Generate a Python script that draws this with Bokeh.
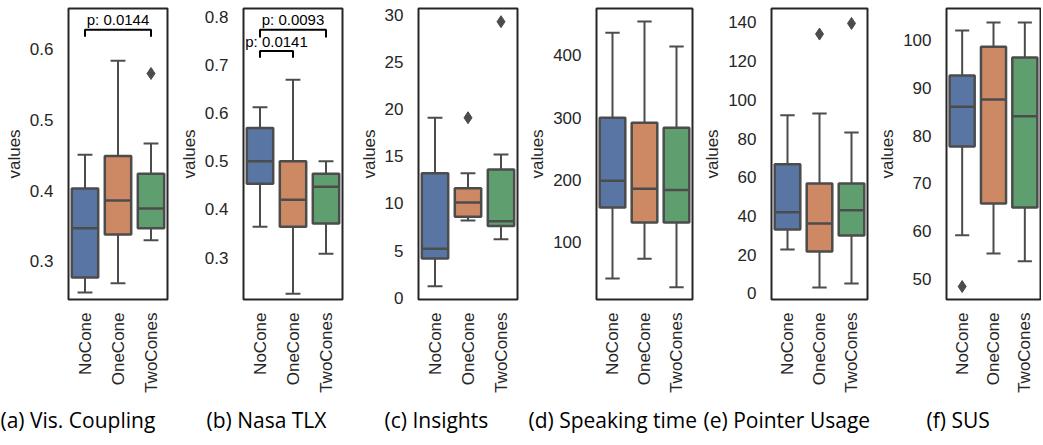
import numpy as np
from bokeh.plotting import figure
from bokeh.layouts import row
from bokeh.models import Range1d, FixedTicker, Title
from bokeh.embed import file_html
from bokeh.resources import INLINE
from bokeh.core.properties import value

# ---------------- data ----------------
categories = ["NoCone", "OneCone", "TwoCones"]
box_colors = ["#5875a4", "#cc8963", "#5f9e6e"]

captions = ["(a) Vis. Coupling", "(b) Nasa TLX", "(c) Insights",
            "(d) Speaking time", "(e) Pointer Usage", "(f) SUS"]

# (a) Vis. Coupling
vis_low = [0.256, 0.269, 0.330]
vis_q1 = [0.277, 0.338, 0.347]
vis_med = [0.347, 0.386, 0.375]
vis_q3 = [0.403, 0.449, 0.424]
vis_high = [0.451, 0.584, 0.467]
vis_out_cat = ["TwoCones"]
vis_out_val = [0.566]
vis_ticks = [0.3, 0.4, 0.5, 0.6]

# (b) Nasa TLX
tlx_low = [0.364, 0.225, 0.308]
tlx_q1 = [0.453, 0.364, 0.371]
tlx_med = [0.500, 0.420, 0.447]
tlx_q3 = [0.569, 0.500, 0.474]
tlx_high = [0.612, 0.669, 0.500]
tlx_out_cat = []
tlx_out_val = []
tlx_ticks = [0.3, 0.4, 0.5, 0.6, 0.7, 0.8]

# (c) Insights
ins_low = [1.2, 8.2, 6.2]
ins_q1 = [4.15, 8.6, 7.6]
ins_med = [5.2, 10.1, 8.1]
ins_q3 = [13.2, 11.6, 13.6]
ins_high = [19.1, 13.2, 15.2]
ins_out_cat = ["OneCone", "TwoCones"]
ins_out_val = [19.1, 29.3]
ins_ticks = [0, 5, 10, 15, 20, 25, 30]

# (d) Speaking time
spk_low = [42, 74, 28]
spk_q1 = [156, 132, 132]
spk_med = [199, 186, 184]
spk_q3 = [300, 292, 284]
spk_high = [436, 454, 414]
spk_out_cat = []
spk_out_val = []
spk_ticks = [100, 200, 300, 400]

# (e) Pointer Usage
ptr_low = [22.7, 3.1, 5.2]
ptr_q1 = [33.0, 21.7, 30.0]
ptr_med = [41.9, 36.2, 43.0]
ptr_q3 = [66.7, 56.8, 56.8]
ptr_high = [92.0, 93.0, 83.2]
ptr_out_cat = ["OneCone", "TwoCones"]
ptr_out_val = [134.0, 139.5]
ptr_ticks = [0, 20, 40, 60, 80, 100, 120, 140]

# (f) SUS
sus_low = [59.2, 55.4, 53.8]
sus_q1 = [77.7, 65.8, 65.0]
sus_med = [86.0, 87.5, 84.0]
sus_q3 = [92.5, 98.5, 96.3]
sus_high = [101.9, 103.6, 103.6]
sus_out_cat = ["NoCone"]
sus_out_val = [48.5]
sus_ticks = [50, 60, 70, 80, 90, 100]

# significance brackets
sig_panel = [0, 1, 1]
sig_from = ["NoCone", "NoCone", "NoCone"]
sig_to = ["TwoCones", "OneCone", "TwoCones"]
sig_top = [0.628, 0.729, 0.773]
sig_bottom = [0.618, 0.715, 0.757]
sig_label_y = [0.6424, 0.748, 0.794]
sig_text = ["p: 0.0144", "p: 0.0141", "p: 0.0093"]

# ---------------- layout / style ----------------
y_limits = [(0.246, 0.658), (0.213, 0.817), (-0.2, 30.7),
            (8.5, 475), (-3.1, 147.2), (45.8, 106.5)]
border_left = [68, 68, 68, 68, 68, 68]
frame_w = [99, 99, 99, 99, 99, 97]
border_right = [8, 8, 8, 8, 8, 1]
caption_offset = [-68, -37, -34, -68, -68, -20]
FIG_H = 443
TOP = 8
FRAME_H = 291

GRAY = "#4c4c4c"
DARK = "#262626"
TICK_FONT = "Liberation Sans"
CAPTION_FONT = "Open Sans"

panels = [
    (vis_low, vis_q1, vis_med, vis_q3, vis_high, vis_out_cat, vis_out_val, vis_ticks),
    (tlx_low, tlx_q1, tlx_med, tlx_q3, tlx_high, tlx_out_cat, tlx_out_val, tlx_ticks),
    (ins_low, ins_q1, ins_med, ins_q3, ins_high, ins_out_cat, ins_out_val, ins_ticks),
    (spk_low, spk_q1, spk_med, spk_q3, spk_high, spk_out_cat, spk_out_val, spk_ticks),
    (ptr_low, ptr_q1, ptr_med, ptr_q3, ptr_high, ptr_out_cat, ptr_out_val, ptr_ticks),
    (sus_low, sus_q1, sus_med, sus_q3, sus_high, sus_out_cat, sus_out_val, sus_ticks),
]

BOX_W = 0.8
CAP_W = 0.45


def make_panel(i):
    low, q1, med, q3, high, out_cat, out_val, yticks = panels[i]
    xs = np.arange(len(categories), dtype=float)
    p = figure(width=border_left[i] + frame_w[i] + border_right[i], height=FIG_H,
               x_range=Range1d(-0.5, len(categories) - 0.5),
               y_range=Range1d(*y_limits[i]),
               output_backend="svg", toolbar_location=None,
               min_border_left=border_left[i], min_border_right=border_right[i],
               min_border_top=TOP, min_border_bottom=FIG_H - TOP - FRAME_H)
    p.xgrid.visible = False
    p.ygrid.visible = False
    p.outline_line_color = DARK
    p.outline_line_width = 2
    p.background_fill_color = "white"
    p.border_fill_color = "white"

    # whiskers
    p.segment(xs, q3, xs, high, line_color=GRAY, line_width=2)
    p.segment(xs, q1, xs, low, line_color=GRAY, line_width=2)
    p.segment(xs - CAP_W / 2, high, xs + CAP_W / 2, high, line_color=GRAY, line_width=2)
    p.segment(xs - CAP_W / 2, low, xs + CAP_W / 2, low, line_color=GRAY, line_width=2)
    # boxes
    p.vbar(x=xs, width=BOX_W, bottom=q1, top=q3, fill_color=box_colors,
           line_color=GRAY, line_width=2.5)
    # medians
    p.segment(xs - BOX_W / 2, med, xs + BOX_W / 2, med, line_color=GRAY, line_width=2.5)
    # outliers
    if out_cat:
        ox = [categories.index(c) for c in out_cat]
        p.scatter(ox, out_val, marker="diamond", size=12,
                  fill_color=GRAY, line_color=GRAY)

    # significance brackets
    for k in range(len(sig_panel)):
        if sig_panel[k] != i:
            continue
        a = categories.index(sig_from[k])
        b = categories.index(sig_to[k])
        p.line([a, a, b, b], [sig_bottom[k], sig_top[k], sig_top[k], sig_bottom[k]],
               line_color="black", line_width=2)
        p.text(x=[(a + b) / 2], y=[sig_label_y[k]], text=[sig_text[k]],
               text_align="center", text_baseline="middle",
               text_font=value(TICK_FONT), text_font_size="15px", text_color="black")

    # x axis
    xa = p.xaxis[0]
    xa.ticker = FixedTicker(ticks=list(range(len(categories))))
    xa.major_label_overrides = {k: c for k, c in enumerate(categories)}
    xa.major_label_orientation = np.pi / 2
    xa.axis_line_color = None
    xa.major_tick_line_color = None
    xa.minor_tick_line_color = None
    xa.major_tick_out = 0
    xa.major_tick_in = 0
    xa.minor_tick_out = 0
    xa.major_label_standoff = 13
    xa.major_label_text_font = TICK_FONT
    xa.major_label_text_font_size = "17px"
    xa.major_label_text_color = DARK

    # y axis
    ya = p.yaxis[0]
    ya.ticker = FixedTicker(ticks=yticks)
    ya.axis_line_color = None
    ya.major_tick_line_color = None
    ya.minor_tick_line_color = None
    ya.major_tick_out = 0
    ya.major_tick_in = 0
    ya.minor_tick_out = 0
    ya.major_label_standoff = 15
    ya.major_label_text_font = TICK_FONT
    ya.major_label_text_font_size = "17px"
    ya.major_label_text_color = DARK
    ya.axis_label = "values"
    ya.axis_label_text_font = TICK_FONT
    ya.axis_label_text_font_size = "17px"
    ya.axis_label_text_font_style = "normal"
    ya.axis_label_text_color = DARK
    ya.axis_label_standoff = 3

    t = Title(text=captions[i], align="left", offset=caption_offset[i],
              text_font=CAPTION_FONT, text_font_size="21px", text_font_style="normal",
              text_color="black", standoff=16)
    p.add_layout(t, "below")
    return p


figs = [make_panel(i) for i in range(len(panels))]
layout = row(*figs, styles={"vertical-align": "top"})

open("out.html", "w").write(file_html(layout, INLINE))
